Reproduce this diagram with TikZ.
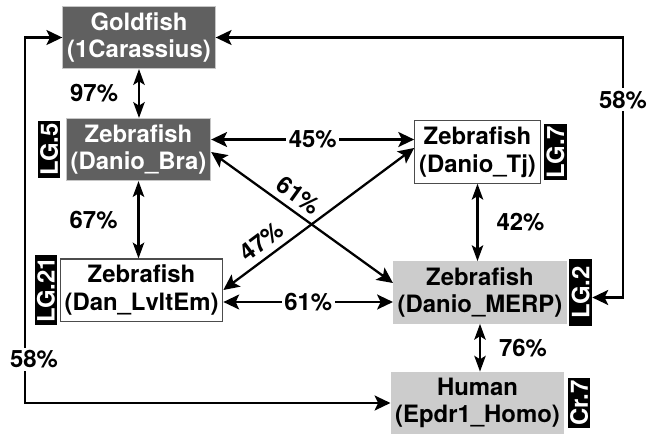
\documentclass[tikz,border=0pt]{standalone}
\usepackage{fontspec}
\setmainfont{TeX Gyre Heros}
\usetikzlibrary{arrows.meta, positioning}

\definecolor{darkbox}{RGB}{96,96,96}
\definecolor{lightbox}{RGB}{204,204,204}

\begin{document}
\begin{tikzpicture}[
    x = 0.02cm, y = -0.02cm,
    every node/.style = {font = \fontsize{13.6}{15.8}\selectfont\bfseries},
    fish/.style = {
      rectangle,
      align = center,
      inner xsep = 2.5pt,
      minimum height = 1.22cm,
    },
    dark/.style = {fish, fill = darkbox, draw = gray!45, line width = 0.6pt, text = white},
    plain/.style = {fish, fill = white, draw = black!70, line width = 0.6pt},
    light/.style = {fish, fill = lightbox},
    tag/.style = {fill = black, text = white, inner sep = 1.3pt},
    link/.style = {
      line width = 1.3pt,
      {Stealth[length = 9pt, width = 8.5pt, inset = 2pt]}-{Stealth[length = 9pt, width = 8.5pt, inset = 2pt]}
    },
    vlink/.style = {
      line width = 1.3pt,
      {Stealth[length = 9pt, width = 6.5pt, inset = 2pt]}-{Stealth[length = 9pt, width = 6.5pt, inset = 2pt]}
    },
    pct/.style = {fill = white, inner sep = 1.5pt},
  ]
  \useasboundingbox (0, 0) rectangle (652, 433);

  % boxes
  \node [dark]  (gold)  at (139, 37.5)   {Goldfish\\(1Carassius)};
  \node [dark]  (bra)   at (138.5, 149.5) {Zebrafish\\(Danio\_Bra)};
  \node [plain] (tj)    at (477.5, 152)  {Zebrafish\\(Danio\_Tj)};
  \node [plain] (lvlt)  at (141.5, 290)  {Zebrafish\\(Dan\_LvltEm)};
  \node [light] (merp)  at (480, 292.5)  {Zebrafish\\(Danio\_MERP)};
  \node [light, minimum height = 1.12cm] (human) at (477.5, 403) {Human\\(Epdr1\_Homo)};

  % linkage groups
  \node [tag, minimum height = 1.1cm,  left  = 0.1cm  of bra]   (lg5)  {\rotatebox{90}{LG.5}};
  \node [tag, minimum height = 1.08cm, right = 0.06cm of tj]    (lg7)  {\rotatebox{90}{LG.7}};
  \node [tag, minimum height = 1.28cm, left  = 0.04cm of lvlt]  (lg21) {\rotatebox{90}{LG.21}};
  \node [tag, minimum height = 1.34cm, right = 0.04cm of merp]  (lg2)  {\rotatebox{90}{LG.2}};
  \node [tag, minimum height = 1.0cm,  right = 0.06cm of human] (cr7)  {\rotatebox{90}{Cr.7}};

  % vertical links
  \draw [vlink] (gold.south) -- (gold.south |- bra.north)
    node [midway, left = 0.28cm] {97\%};
  \draw [vlink] (bra.south) -- (bra.south |- lvlt.north)
    node [midway, left = 0.28cm] {67\%};
  \draw [vlink] (tj.south) -- (tj.south |- merp.north)
    node [midway, right = 0.24cm] {42\%};
  \draw [vlink] (merp.south) -- (merp.south |- human.north)
    node [midway, right = 0.24cm] {76\%};

  % horizontal links
  \draw [link] ([yshift = 0.2cm]bra.east) -- ([yshift = 0.2cm]bra.east -| tj.west)
    node [midway, pct] {45\%};
  \draw [link] ([yshift = -0.24cm]lvlt.east) -- ([yshift = -0.24cm]lvlt.east -| merp.west)
    node [midway, pct] {61\%};

  % crossing links
  \draw [link] ([yshift = -0.05cm]bra.east) -- ([yshift = 0.19cm]merp.west)
    node [pos = 0.43, above, sloped] {61\%};
  \draw [link] (lvlt.east) -- ([yshift = 0.08cm]tj.west)
    node [pos = 0.25, above, sloped] {47\%};

  % outer loops
  \coordinate (nw) at (25, 37.5);
  \coordinate (ne) at (623, 37.5);
  \draw [link] (gold.west) -- (nw) |- (human.west)
    node [pos = 0.44, pct, xshift = 0.18cm] {58\%};
  \draw [link] (gold.east) -- (ne) |- ([yshift = -0.1cm]lg2.east)
    node [pos = 0.12, pct] {58\%};
\end{tikzpicture}
\end{document}
